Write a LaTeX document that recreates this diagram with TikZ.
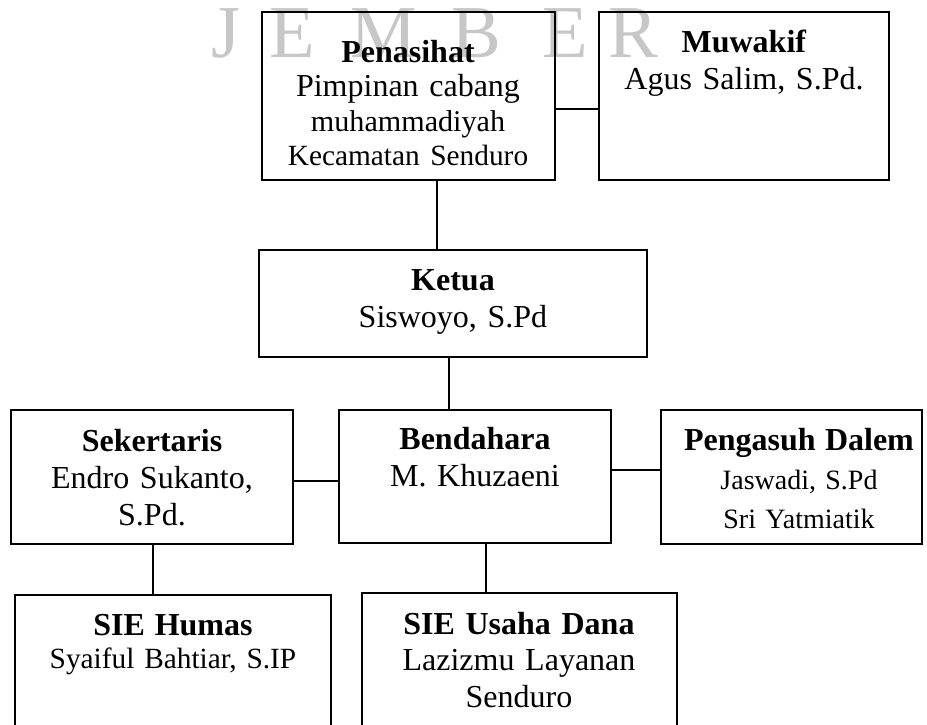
\documentclass[tikz,border=0pt]{standalone}
\usepackage{fontspec}
\setmainfont{Liberation Serif}
\usetikzlibrary{fit,calc}
\frenchspacing

\tikzset{
    orgbox/.style={draw, line width=0.6pt, inner sep=0pt},
    orgtext/.style={text width=110pt, align=center, inner sep=0pt, anchor=base,
        font=\fontsize{12}{14}\selectfont},
    orgline/.style={line width=0.6pt},
    wmark/.style={text=black!22, inner sep=0pt, anchor=base, font=\fontsize{28}{28}\selectfont}
}

\begin{document}
\begin{tikzpicture}[x=0.375pt, y=-0.375pt]
        \clip (0,0) rectangle (927,725);
        % watermark
        \foreach \ch/\xx [count=\i] in {J/226,E/292,M/384,B/476,E/565,R/633}
            \node[wmark] (wm\i) at (\xx,57) {\ch};
        % boxes
        \node[orgbox, fit={(262,12) (555,180)}] (penasihat) {};
        \node[orgbox, fit={(599,12) (889,180)}] (muwakif) {};
        \node[orgbox, fit={(259,250) (647,357)}] (ketua) {};
        \node[orgbox, fit={(11,410) (293,544)}] (sekertaris) {};
        \node[orgbox, fit={(339,410) (611,543)}] (bendahara) {};
        \node[orgbox, fit={(661,410) (922,544)}] (pengasuh) {};
        \node[orgbox, fit={(15,595) (331,760)}] (humas) {};
        \node[orgbox, fit={(362,593) (677,760)}] (usaha) {};
        % texts
        \node[orgtext, font=\fontsize{12}{13}\selectfont] (penasihattxt) at (408,62)
            {\textbf{Penasihat}\\Pimpinan cabang\\{\fontsize{11.3}{13}\selectfont muhammadiyah}\\
             {\fontsize{11}{13}\selectfont Kecamatan Senduro}};
        \node[orgtext] (muwakiftxt) at (744,52) {\textbf{Muwakif}\\Agus Salim, S.Pd.};
        \node[orgtext] (ketuatxt) at (453,290) {\textbf{Ketua}\\Siswoyo, S.Pd};
        \node[orgtext] (sekertaristxt) at (152,451) {\textbf{Sekertaris}\\Endro Sukanto,\\S.Pd.};
        \node[orgtext] (bendaharatxt) at (475,449) {\textbf{Bendahara}\\M. Khuzaeni};
        \node[orgtext, font=\fontsize{10.5}{14.8}\selectfont] (pengasuhtxt) at (799,450)
            {{\fontsize{12}{14.8}\selectfont\bfseries Pengasuh Dalem}\\Jaswadi, S.Pd\\Sri Yatmiatik};
        \node[orgtext, font=\fontsize{11}{12.4}\selectfont] (humastxt) at (173,635)
            {{\fontsize{12}{12.4}\selectfont\bfseries SIE Humas}\\Syaiful Bahtiar, S.IP};
        \node[orgtext, font=\fontsize{12}{13.7}\selectfont] (usahatxt) at (519,634)
            {\textbf{SIE Usaha Dana}\\Lazizmu Layanan\\Senduro};
        % connectors
        \draw[orgline] ($(penasihat.east)+(0,13)$) -- ($(muwakif.west)+(0,13)$);
        \draw[orgline] ($(penasihat.south)+(28.5,0)$) -- ($(ketua.north)+(-16,0)$);
        \draw[orgline] ($(ketua.south)+(-4,0)$) -- ($(bendahara.north)+(-26,0)$);
        \draw[orgline] ($(sekertaris.east)+(0,4)$) -- ($(bendahara.west)+(0,4.5)$);
        \draw[orgline] ($(bendahara.east)+(0,-6.5)$) -- ($(pengasuh.west)+(0,-7)$);
        \draw[orgline] ($(sekertaris.south)+(1,0)$) -- ($(humas.north)+(-20,0)$);
        \draw[orgline] ($(bendahara.south)+(11,0)$) -- ($(usaha.north)+(-33.5,0)$);
\end{tikzpicture}
\end{document}
